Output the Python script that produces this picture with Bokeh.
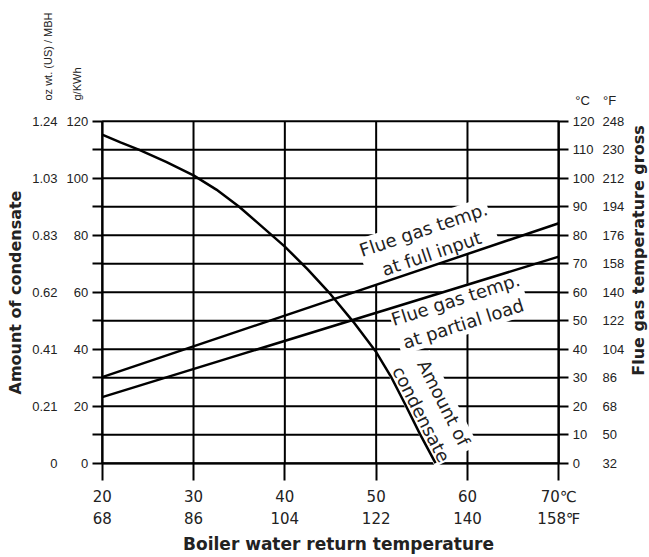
import math
from bokeh.plotting import figure
from bokeh.models import LinearAxis, FixedTicker, Label, Range1d
from bokeh.embed import file_html
from bokeh.resources import INLINE

# ---- data ----
# Boiler water return temperature (deg C) vs amount of condensate (g/kWh)
cond_x = [20, 22, 24, 27, 30, 32.5, 35, 37.5, 40, 42.5, 45, 47.5, 50, 51.6, 53.2, 54.8, 56.5]
cond_y = [115.3, 112.6, 110, 105.7, 101, 96, 90, 83, 76, 68, 59.3, 49.6, 39, 30.5, 20.5, 10.2, 0]
# Flue gas temperature (deg C)
full_x = [20, 70]
full_y = [30.2, 84.2]
part_x = [20, 70]
part_y = [23.2, 72.5]

x_ticks = [20, 30, 40, 50, 60, 70]
x_labels_c = ["20", "30", "40", "50", "60", "70\u2103"]
x_labels_f = ["68", "86", "104", "122", "140", "158\u2109"]
y_ticks_all = [0, 10, 20, 30, 40, 50, 60, 70, 80, 90, 100, 110, 120]
g_ticks = [0, 20, 40, 60, 80, 100, 120]
g_labels = ["0", "20", "40", "60", "80", "100", "120"]
oz_labels = ["0", "0.21", "0.41", "0.62", "0.83", "1.03", "1.24"]
c_labels = ["0", "10", "20", "30", "40", "50", "60", "70", "80", "90", "100", "110", "120"]
f_labels = ["32", "50", "68", "86", "104", "122", "140", "158", "176", "194", "212", "230", "248"]

X_MIN, X_MAX = 20, 70
Y_MIN, Y_MAX = 0, 120

# ---- layout (pixel placement of the chart area inside the canvas) ----
W, H = 649, 557
PX_X0, PX_X1 = 101.7, 558.3   # canvas x of X_MIN, X_MAX
PX_Y0, PX_Y1 = 462.7, 120.7   # canvas y of Y_MIN, Y_MAX
KX = (PX_X1 - PX_X0) / (X_MAX - X_MIN)
KY = (PX_Y0 - PX_Y1) / (Y_MAX - Y_MIN)

def xd(sx):
    return X_MIN + (sx - PX_X0) / KX

def yd(sy):
    return Y_MIN + (PX_Y0 - sy) / KY

FONT = "Liberation Sans"
FONT2 = "DejaVu Sans"
TXT = "#222222"

p = figure(width=W, height=H, x_range=Range1d(xd(0), xd(W)), y_range=Range1d(yd(H), yd(0)),
           x_axis_type=None, y_axis_type=None, output_backend="svg", toolbar_location=None,
           min_border_left=0, min_border_right=0, min_border_top=0, min_border_bottom=0)
p.outline_line_color = None
p.background_fill_color = "white"
p.border_fill_color = "white"
p.xgrid.visible = False
p.ygrid.visible = False

# grid lines within the chart area
p.segment(x0=x_ticks, y0=[Y_MIN] * len(x_ticks), x1=x_ticks, y1=[Y_MAX] * len(x_ticks),
          line_color="black", line_width=2)
p.segment(x0=[X_MIN] * len(y_ticks_all), y0=y_ticks_all, x1=[X_MAX] * len(y_ticks_all), y1=y_ticks_all,
          line_color="black", line_width=2)

def style(ax, font, size, tick_out, standoff, line=True):
    ax.major_label_text_font = font
    ax.major_label_text_font_size = size
    ax.major_label_text_color = TXT
    ax.major_tick_in = 0
    ax.major_tick_out = tick_out
    ax.minor_tick_in = 0
    ax.minor_tick_out = 0
    ax.major_label_standoff = standoff
    if line and tick_out > 0:
        ax.major_tick_line_color = "black"
        ax.major_tick_line_width = 2
    else:
        ax.major_tick_line_color = None
    if line:
        ax.axis_line_color = "black"
        ax.axis_line_width = 2
    else:
        ax.axis_line_color = None

# left axes
ov_g = {t: "" for t in y_ticks_all}
ov_g.update({t: l for t, l in zip(g_ticks, g_labels)})
ax_g = LinearAxis(ticker=FixedTicker(ticks=y_ticks_all), major_label_overrides=ov_g,
                  fixed_location=X_MIN, bounds=(Y_MIN, Y_MAX))
style(ax_g, FONT, "13px", 10, 4)
p.add_layout(ax_g, "left")
ax_oz = LinearAxis(ticker=FixedTicker(ticks=g_ticks), fixed_location=xd(61), bounds=(Y_MIN, Y_MAX),
                   major_label_overrides={t: l for t, l in zip(g_ticks, oz_labels)})
style(ax_oz, FONT, "13px", 0, 4, line=False)
p.add_layout(ax_oz, "left")

# right axes
ax_c = LinearAxis(ticker=FixedTicker(ticks=y_ticks_all), fixed_location=X_MAX, bounds=(Y_MIN, Y_MAX),
                  major_label_overrides={t: l for t, l in zip(y_ticks_all, c_labels)})
style(ax_c, FONT, "13px", 10, 4)
p.add_layout(ax_c, "right")
ax_f = LinearAxis(ticker=FixedTicker(ticks=y_ticks_all), fixed_location=xd(598), bounds=(Y_MIN, Y_MAX),
                  major_label_overrides={t: l for t, l in zip(y_ticks_all, f_labels)})
style(ax_f, FONT, "13px", 0, 4, line=False)
p.add_layout(ax_f, "right")

# bottom axes
ax_xc = LinearAxis(ticker=FixedTicker(ticks=x_ticks), fixed_location=Y_MIN, bounds=(X_MIN, X_MAX),
                   major_label_overrides={t: l for t, l in zip(x_ticks, x_labels_c)})
style(ax_xc, FONT2, "15px", 17, 8)
p.add_layout(ax_xc, "below")
ax_xf = LinearAxis(ticker=FixedTicker(ticks=x_ticks), fixed_location=yd(505), bounds=(X_MIN, X_MAX),
                   major_label_overrides={t: l for t, l in zip(x_ticks, x_labels_f)})
style(ax_xf, FONT2, "15px", 0, 4, line=False)
p.add_layout(ax_xf, "below")

# data lines (drawn above the label boxes)
p.line(cond_x, cond_y, line_color="black", line_width=2.5, level="overlay")
p.line(full_x, full_y, line_color="black", line_width=2.5, level="overlay")
p.line(part_x, part_y, line_color="black", line_width=2.5, level="overlay")

def lab(sx, sy, text, size, angle=0.0, align="center", bold=False, bg=None, font=FONT):
    kw = dict(x=xd(sx), y=yd(sy), text=text, angle=angle, text_align=align, text_baseline="middle",
              text_font=font, text_font_size=size, text_color=TXT,
              text_font_style="bold" if bold else "normal")
    if bg:
        kw.update(background_fill_color=bg, padding=1)
    p.add_layout(Label(**kw))

# in-chart labels (canvas pixel positions)
lab(427, 241, "Flue gas temp.\nat full input", "18px", angle=0.325, bg="white", font=FONT2)
lab(459, 311, "Flue gas temp.\nat partial load", "18px", angle=0.31, bg="white", font=FONT2)
lab(432, 408, "Amount of\ncondensate", "18px", angle=-1.10, bg="white", font=FONT2)

# headers and titles
lab(47, 100, "oz wt. (US) / MBH", "11px", angle=math.pi / 2, align="left")
lab(76, 100, "g/KWh", "11px", angle=math.pi / 2, align="left")
lab(582, 100, "\u00b0C", "13px")
lab(609, 100, "\u00b0F", "13px")
lab(15, 292, "Amount of condensate", "16px", angle=math.pi / 2, bold=True, font=FONT2)
lab(638, 250, "Flue gas temperature gross", "16px", angle=math.pi / 2, bold=True, font=FONT2)
lab(338, 543, "Boiler water return temperature", "17px", bold=True, font=FONT2)

open("out.html", "w").write(file_html(p, INLINE))
